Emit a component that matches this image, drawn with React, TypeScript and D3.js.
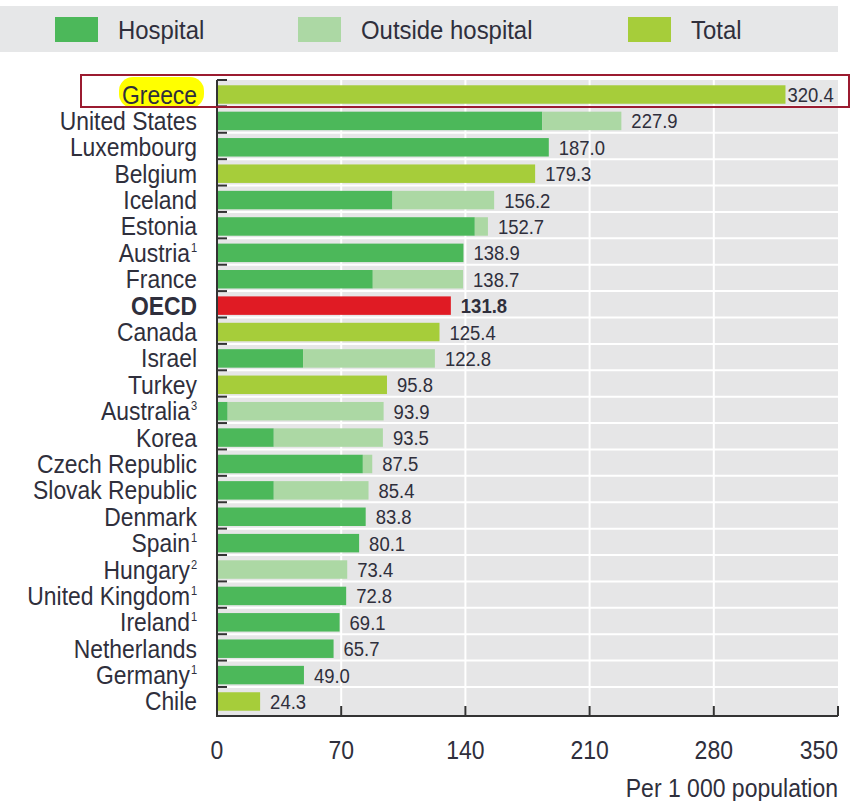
import React, { useRef, useEffect } from 'react';
import * as d3 from 'd3';

// countries top to bottom, sup = footnote number
const countries = ['Greece', 'United States', 'Luxembourg', 'Belgium', 'Iceland', 'Estonia', 'Austria', 'France', 'OECD', 'Canada', 'Israel', 'Turkey', 'Australia', 'Korea', 'Czech Republic', 'Slovak Republic', 'Denmark', 'Spain', 'Hungary', 'United Kingdom', 'Ireland', 'Netherlands', 'Germany', 'Chile'];
const footnotes = ['', '', '', '', '', '', '1', '', '', '', '', '', '3', '', '', '', '', '1', '2', '1', '1', '', '1', ''];
const hospital = [0, 183.3, 187.0, 0, 98.9, 145.3, 138.9, 87.8, 0, 0, 48.5, 0, 6.0, 32.0, 82.2, 32.0, 83.8, 80.1, 0, 72.8, 69.1, 65.7, 49.0, 0];
const outside = [0, 44.6, 0, 0, 57.3, 7.4, 0, 50.9, 0, 0, 74.3, 0, 87.9, 61.5, 5.3, 53.4, 0, 0, 73.4, 0, 0, 0, 0, 0];
const totalOnly = [320.4, 0, 0, 179.3, 0, 0, 0, 0, 131.8, 125.4, 0, 95.8, 0, 0, 0, 0, 0, 0, 0, 0, 0, 0, 0, 24.3];
const labels = ['320.4', '227.9', '187.0', '179.3', '156.2', '152.7', '138.9', '138.7', '131.8', '125.4', '122.8', '95.8', '93.9', '93.5', '87.5', '85.4', '83.8', '80.1', '73.4', '72.8', '69.1', '65.7', '49.0', '24.3'];
const xTicks = [0, 70, 140, 210, 280, 350];
const legendItems = ['Hospital', 'Outside hospital', 'Total'];

const cHosp = '#4cb85a';
const cOut = '#acd8a4';
const cTot = '#a6cd3a';
const cOecd = '#e01b24';
const font = '"Liberation Sans", Arial, sans-serif';
const textCol = '#2f2f3c';

const App = () => {
    const ref = useRef(null);

    useEffect(() => {
        const width = 852, height = 801;
        const svg = d3.select(ref.current);
        svg.selectAll('*').remove();
        svg.attr('width', width).attr('height', height)
            .style('font-family', font);

        // condensed text: no narrow font installed, so squeeze horizontally
        function txt(parent, x, y, s, size, sx, anchor) {
            return parent.append('text')
                .attr('transform', 'translate(' + x + ',' + y + ') scale(' + sx + ',1)')
                .attr('font-size', size).attr('fill', textCol)
                .attr('text-anchor', anchor || 'start')
                .text(s);
        }

        // legend
        svg.append('rect').attr('x', 0).attr('y', 6).attr('width', 838).attr('height', 46).attr('fill', '#e6e7e8');
        const legX = [55, 298, 628];
        const legC = [cHosp, cOut, cTot];
        legendItems.forEach((t, i) => {
            svg.append('rect').attr('x', legX[i]).attr('y', 17).attr('width', 43).attr('height', 25).attr('fill', legC[i]);
            txt(svg, legX[i] + 63, 39, t, 26, 0.92);
        });

        const x = d3.scaleLinear().domain([0, 350]).range([217, 838]);
        const y = d3.scaleBand().domain(countries).range([80, 716]).paddingInner(0.3).paddingOuter(0.2);
        const step = y.step();

        // plot background
        svg.append('rect').attr('x', x(0)).attr('y', 80).attr('width', x(350) - x(0)).attr('height', 636).attr('fill', '#e6e6e7');
        // white row separators
        countries.forEach((c, i) => {
            if (i === 0) return;
            svg.append('line').attr('x1', x(0)).attr('x2', x(350))
                .attr('y1', 80 + i * step).attr('y2', 80 + i * step)
                .attr('stroke', '#fff').attr('stroke-width', 2);
        });
        xTicks.slice(1, -1).forEach((t) => {
            svg.append('line').attr('x1', x(t)).attr('x2', x(t)).attr('y1', 80).attr('y2', 716)
                .attr('stroke', '#fff').attr('stroke-width', 2);
        });

        // bars
        const g = svg.append('g');
        countries.forEach((c, i) => {
            const yy = y(c);
            const h = y.bandwidth();
            if (hospital[i] > 0) {
                g.append('rect').attr('x', x(0)).attr('y', yy).attr('width', x(hospital[i]) - x(0)).attr('height', h).attr('fill', cHosp);
            }
            if (outside[i] > 0) {
                g.append('rect').attr('x', x(hospital[i])).attr('y', yy).attr('width', x(hospital[i] + outside[i]) - x(hospital[i])).attr('height', h).attr('fill', cOut);
            }
            if (totalOnly[i] > 0) {
                g.append('rect').attr('x', x(0)).attr('y', yy).attr('width', x(totalOnly[i]) - x(0)).attr('height', h)
                    .attr('fill', c === 'OECD' ? cOecd : cTot);
            }
            const end = x(hospital[i] + outside[i] + totalOnly[i]);
            const lx = end + 60 > 840 ? end + 2 : end + 10;
            txt(g, lx, yy + h / 2 + 7.5, labels[i], 21, 0.88)
                .attr('font-weight', c === 'OECD' ? 'bold' : 'normal');
        });

        // category labels
        countries.forEach((c, i) => {
            const cy = y(c) + y.bandwidth() / 2;
            if (c === 'Greece') {
                svg.append('rect').attr('x', 119).attr('y', 77).attr('width', 85).attr('height', 31)
                    .attr('rx', 14).attr('fill', '#ffff00');
            }
            txt(svg, footnotes[i] ? 190 : 197, cy + 9, c, 26, 0.88, 'end')
                .attr('font-weight', c === 'OECD' ? 'bold' : 'normal');
            if (footnotes[i]) {
                txt(svg, 191, cy - 1, footnotes[i], 13, 0.85);
            }
        });

        // axes
        svg.append('line').attr('x1', x(0)).attr('x2', x(0)).attr('y1', 80).attr('y2', 717)
            .attr('stroke', '#333').attr('stroke-width', 2);
        svg.append('line').attr('x1', x(0)).attr('x2', x(350)).attr('y1', 716).attr('y2', 716)
            .attr('stroke', '#333').attr('stroke-width', 2);
        countries.forEach((c, i) => {
            svg.append('line').attr('x1', x(0)).attr('x2', x(0) + 10)
                .attr('y1', 80 + i * step).attr('y2', 80 + i * step)
                .attr('stroke', '#333').attr('stroke-width', 2);
        });
        xTicks.slice(1).forEach((t) => {
            svg.append('line').attr('x1', x(t)).attr('x2', x(t)).attr('y1', 706).attr('y2', 716)
                .attr('stroke', '#333').attr('stroke-width', 2);
        });
        xTicks.forEach((t) => {
            txt(svg, x(t), 759, String(t), 25, 0.92, t === 350 ? 'end' : 'middle');
        });
        txt(svg, 838, 797, 'Per 1 000 population', 25, 0.92, 'end');

        // Greece highlight box
        svg.append('rect').attr('x', 81).attr('y', 75).attr('width', 768).attr('height', 32)
            .attr('fill', 'none').attr('stroke', '#9b1b30').attr('stroke-width', 2);
    }, []);

    return (
        <div style={{ position: 'absolute', left: 0, top: 0 }}>
            <svg ref={ref} />
        </div>
    );
};

export default App;
